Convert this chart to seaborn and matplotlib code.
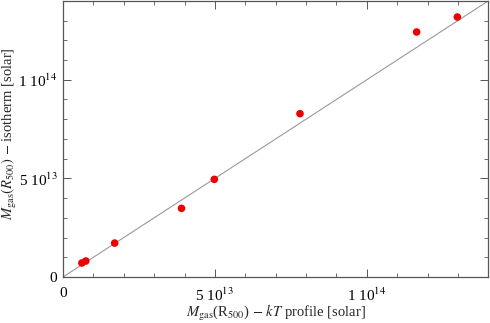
import matplotlib
matplotlib.use("Agg")
import matplotlib.pyplot as plt
import seaborn as sns
import numpy as np
import pandas as pd
from matplotlib.ticker import FixedLocator, MultipleLocator

m_kt = [0.62e13, 0.75e13, 1.70e13, 3.90e13, 4.98e13, 7.80e13, 11.64e13, 12.98e13]
m_iso = [0.71e13, 0.81e13, 1.72e13, 3.48e13, 4.95e13, 8.28e13, 12.42e13, 13.18e13]
tick_vals = [0, 5e13, 1e14]
tick_labels = ["0", r"5 10$^{13}$", r"1 10$^{14}$"]

sns.set_style("ticks")
plt.rcParams["font.family"] = ["Liberation Serif", "DejaVu Serif"]
plt.rcParams["mathtext.fontset"] = "stix"

df = pd.DataFrame({"kt": m_kt, "iso": m_iso})

fig = plt.figure(figsize=(4.9, 3.23), dpi=100)
ax = fig.add_axes([0.1286, 0.1424, 0.868, 0.855])

lim = 1.4e14
ax.plot([0, lim], [0, lim], color="#999999", lw=0.8, zorder=1)
sns.scatterplot(data=df, x="kt", y="iso", ax=ax, color="#ee0000",
                s=30, edgecolor="none", zorder=3)

ax.set_xlim(0, lim)
ax.set_ylim(0, lim)
for axis in (ax.xaxis, ax.yaxis):
    axis.set_major_locator(FixedLocator(tick_vals))
    axis.set_minor_locator(MultipleLocator(1e13))
ax.set_xticklabels(tick_labels)
ax.set_yticklabels(tick_labels)
ax.tick_params(which="both", direction="in", top=True, right=True,
               colors="#555555", labelcolor="black", labelsize=11)
ax.tick_params(which="major", length=6, width=0.7)
ax.tick_params(which="minor", length=3, width=0.6)
ax.tick_params(axis="x", pad=7)
ax.tick_params(axis="y", pad=4)
for sp in ax.spines.values():
    sp.set_color("#555555")
    sp.set_linewidth(0.9)

ax.set_xlabel(r"$M_{\rm gas}$(R$_{500}$) $-$ $kT$ profile [solar]", fontsize=10.5)
ax.set_ylabel(r"$M_{\rm gas}(R_{500})$ $-$ isotherm [solar]", fontsize=10.5)
ax.xaxis.set_label_coords(0.5, -0.095)
ax.yaxis.set_label_coords(-0.103, 0.52)
ax.grid(False)

fig.savefig("out.png", dpi=100)
